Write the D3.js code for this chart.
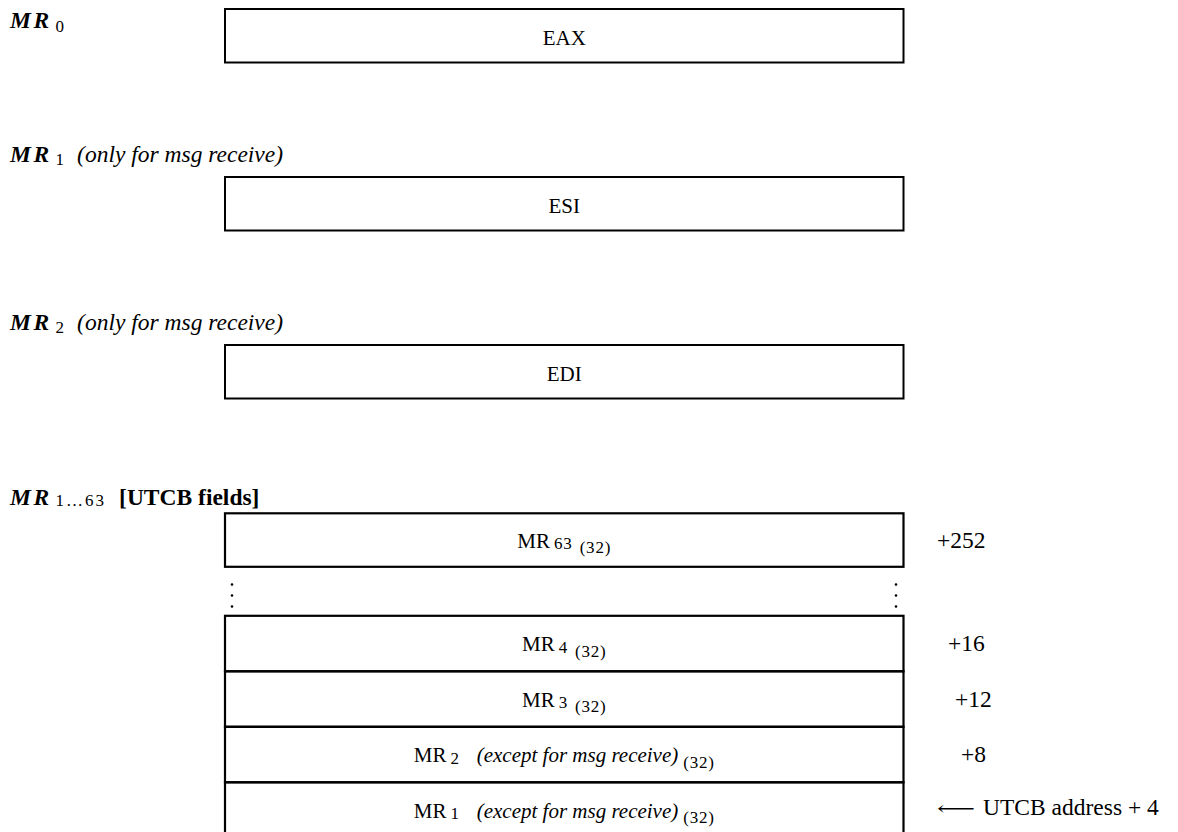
<!DOCTYPE html>
<html>
<head>
<meta charset="utf-8">
<script src="https://cdn.jsdelivr.net/npm/d3@7/dist/d3.min.js"></script>
<style>
  html, body { margin: 0; padding: 0; background: #fff; }
  svg { display: block; }
  text { font-family: "Liberation Serif", "Times New Roman", "DejaVu Serif", serif; fill: #000; }
</style>
</head>
<body>
<svg id="chart" width="1178" height="832"></svg>
<script>
// ---- data ----
const regNames = ["MR", "MR", "MR"];
const regSubs = ["0", "1", "2"];
const regNotes = ["", "(only for msg receive)", "(only for msg receive)"];
const regContents = ["EAX", "ESI", "EDI"];

const utcbTitle = "MR";
const utcbTitleSub = "1\u202663";
const utcbTitleNote = "[UTCB fields]";
const utcbSubs = ["63", "4", "3", "2", "1"];
const utcbNotes = ["", "", "", "(except for msg receive)", "(except for msg receive)"];
const utcbWidth = ["(32)", "(32)", "(32)", "(32)", "(32)"];
const utcbOffsets = ["+252", "+16", "+12", "+8", "UTCB address + 4"];

// ---- layout ----
const svg = d3.select("#chart");
const MAIN = 21, SUB = 17, LARGE = 23.5;
const x = d3.scaleLinear().domain([0, 1]).range([225, 903.5]);
const boxH = 53.5;
const yReg = d3.scaleLinear().domain([0, 1]).range([9, 177]);
const yRows = d3.scaleLinear().domain([0, 1]).range([615.8, 671.3]);
function rowTop(i) { return i === 0 ? 513.3 : yRows(i - 1); }
function rowH(i) { return i === 0 ? 53.5 : 55.5; }

const g = svg.append("g");

// ---- register boxes ----
regContents.forEach((c, i) => {
  const top = yReg(i);
  g.append("rect")
    .attr("x", x(0)).attr("y", top)
    .attr("width", x(1) - x(0)).attr("height", boxH)
    .attr("fill", "none").attr("stroke", "#000").attr("stroke-width", 2);
  g.append("text")
    .attr("x", (x(0) + x(1)) / 2).attr("y", top + boxH / 2 + 9.3)
    .attr("text-anchor", "middle").attr("font-size", MAIN)
    .text(c);
  const ly = i === 0 ? 28 : top - 15;
  const t = g.append("text").attr("x", 10).attr("y", ly).attr("font-size", LARGE);
  t.append("tspan").attr("font-weight", "bold").attr("font-style", "italic")
    .attr("letter-spacing", 2.5).text(regNames[i]);
  t.append("tspan").attr("font-size", SUB).attr("dx", 4).attr("dy", i === 0 ? 4 : 2.5).text(regSubs[i]);
  if (regNotes[i]) {
    t.append("tspan").attr("font-style", "italic").attr("dx", 13).attr("dy", i === 0 ? -4 : -2.5).text(regNotes[i]);
  }
});

// ---- UTCB title ----
{
  const t = g.append("text").attr("x", 10).attr("y", 505).attr("font-size", LARGE);
  t.append("tspan").attr("font-weight", "bold").attr("font-style", "italic")
    .attr("letter-spacing", 2.5).text(utcbTitle);
  t.append("tspan").attr("font-size", SUB).attr("letter-spacing", 2).attr("dx", 4).attr("dy", 1).text(utcbTitleSub);
  t.append("tspan").attr("font-weight", "bold").attr("dx", 13).attr("dy", -1).text(utcbTitleNote);
}

// ---- UTCB rows ----
utcbSubs.forEach((s, i) => {
  const top = rowTop(i), h = rowH(i), cy = top + h / 2;
  g.append("rect")
    .attr("x", x(0)).attr("y", top)
    .attr("width", x(1) - x(0)).attr("height", h)
    .attr("fill", "none").attr("stroke", "#000").attr("stroke-width", 2.2);
  const t = g.append("text")
    .attr("x", (x(0) + x(1)) / 2).attr("y", cy + 7.5)
    .attr("text-anchor", "middle").attr("font-size", MAIN);
  t.append("tspan").text("MR");
  t.append("tspan").attr("font-size", SUB).attr("letter-spacing", 0.8).attr("dx", 4).attr("dy", 1.6).text(s);
  if (utcbNotes[i]) {
    t.append("tspan").attr("font-style", "italic").attr("dx", 17).attr("dy", -1.6).text(utcbNotes[i]);
  }
  t.append("tspan").attr("font-size", SUB).attr("letter-spacing", 0.8).attr("dx", utcbNotes[i] ? 5 : 7)
    .attr("dy", utcbNotes[i] ? 5.5 : 4).text(utcbWidth[i]);
});

// ---- offsets on the right ----
const offX = [937, 948, 955, 961, 983];
utcbOffsets.forEach((o, i) => {
  const cy = rowTop(i) + rowH(i) / 2;
  const last = i === utcbOffsets.length - 1;
  g.append("text")
    .attr("x", offX[i]).attr("y", cy + (last ? 4.5 : 7.5))
    .attr("font-size", LARGE).text(o);
  if (last) {
    g.append("text")
      .attr("x", 937).attr("y", cy + 4.5)
      .attr("font-family", "DejaVu Sans").attr("font-size", 20)
      .attr("textLength", 38).attr("lengthAdjust", "spacingAndGlyphs")
      .text("\u27F5");
  }
});

// ---- vertical dots between MR63 and MR4 ----
const dotY = d3.scaleLinear().domain([0, 2]).range([584.5, 606.5]);
[x(0) + 7, x(1) - 7.5].forEach(dx => {
  g.selectAll(null).data([0, 1, 2]).enter().append("circle")
    .attr("cx", dx).attr("cy", d => dotY(d)).attr("r", 1.3).attr("fill", "#000");
});
</script>
</body>
</html>
